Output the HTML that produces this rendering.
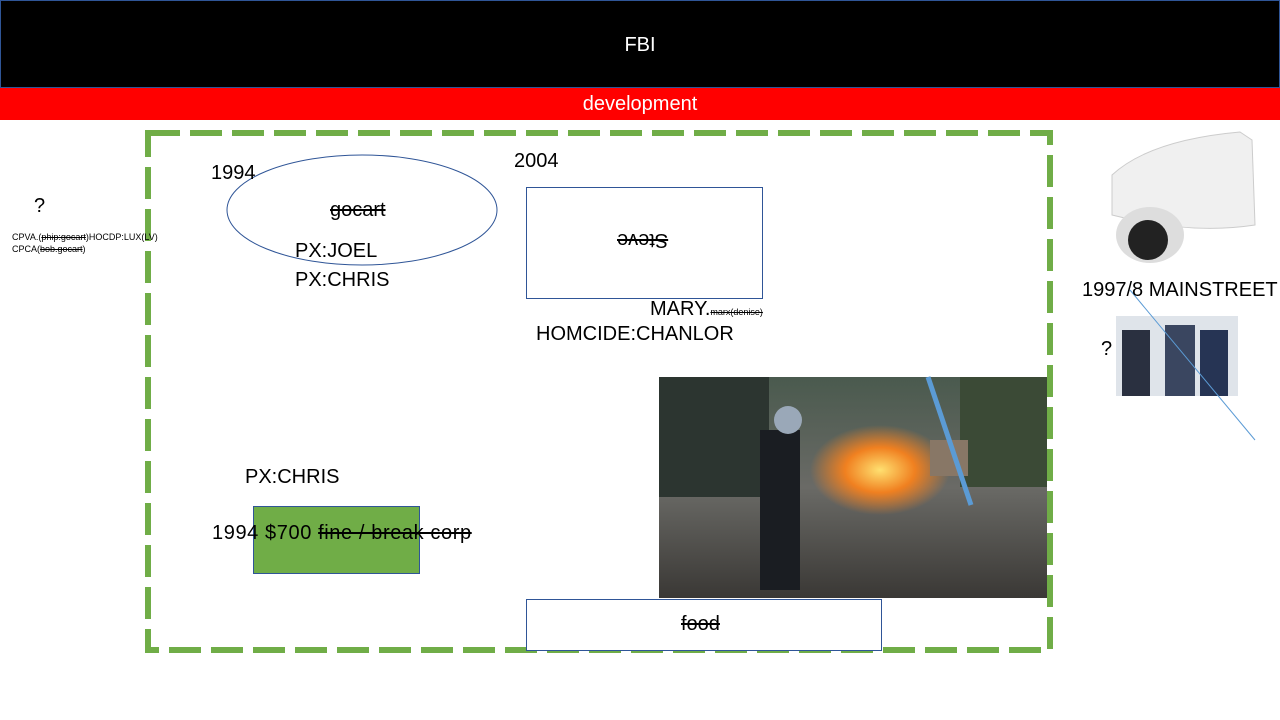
<!DOCTYPE html>
<html><head><meta charset="utf-8"><style>
body{margin:0;width:1280px;height:720px;position:relative;overflow:hidden;background:#fff;font-family:"Liberation Sans",sans-serif;}
.a{position:absolute;white-space:nowrap;color:#000;}
.s{text-decoration:line-through;}
</style></head><body>
<div class="a" style="left:0;top:0;width:1280px;height:88px;background:#000;border:1px solid #2f5597;box-sizing:border-box;color:#fff;font-size:20px;text-align:center;line-height:88px;">FBI</div>
<div class="a" style="left:0;top:88px;width:1280px;height:32px;background:#f00;color:#fff;font-size:20px;text-align:center;line-height:32px;">development</div>
<svg class="a" style="left:0;top:0" width="1280" height="720">
<rect x="148" y="133" width="902" height="517" fill="none" stroke="#70ad47" stroke-width="6" stroke-dasharray="32,10"/>
<ellipse cx="362" cy="210" rx="135" ry="55" fill="#fff" stroke="#2f5597" stroke-width="1"/>
<rect x="526.5" y="187.5" width="236" height="111" fill="#fff" stroke="#2f5597"/>
<rect x="253.5" y="506.5" width="166" height="67" fill="#70ad47" stroke="#2f5597"/>
<defs><linearGradient id="ph" x1="0" y1="0" x2="0" y2="1"><stop offset="0" stop-color="#4a5a4e"/><stop offset="0.5" stop-color="#6a6a66"/><stop offset="1" stop-color="#3a3835"/></linearGradient>
<radialGradient id="fire"><stop offset="0" stop-color="#ffe070"/><stop offset="0.5" stop-color="#f08020"/><stop offset="1" stop-color="#f08020" stop-opacity="0"/></radialGradient></defs>
<g>
<rect x="659" y="377" width="388" height="221" fill="url(#ph)"/>
<rect x="659" y="377" width="110" height="120" fill="#2c3530"/>
<rect x="960" y="377" width="87" height="110" fill="#3b4a36"/>
<ellipse cx="880" cy="470" rx="70" ry="45" fill="url(#fire)"/>
<rect x="760" y="430" width="40" height="160" fill="#1a1d22"/>
<circle cx="788" cy="420" r="14" fill="#9aa8b8"/>
<rect x="930" y="440" width="38" height="36" fill="#887766"/>
<line x1="928" y1="377" x2="971" y2="505" stroke="#5b9bd5" stroke-width="5"/>
</g>
<rect x="526.5" y="599.5" width="355" height="51" fill="#fff" stroke="#2f5597"/>
<g>
<path d="M1112 175 Q1150 140 1240 132 L1252 140 L1255 225 Q1190 235 1112 215 Z" fill="#f0f0f0" stroke="#ccc"/>
<ellipse cx="1150" cy="235" rx="34" ry="28" fill="#ddd"/>
<circle cx="1148" cy="240" r="20" fill="#222"/>
</g>
<g>
<rect x="1116" y="316" width="122" height="80" fill="#dfe4ea"/>
<rect x="1122" y="330" width="28" height="66" fill="#2a3040"/>
<rect x="1165" y="325" width="30" height="71" fill="#3a4660"/>
<rect x="1200" y="330" width="28" height="66" fill="#263454"/>
</g>
<line x1="1130" y1="290" x2="1255" y2="440" stroke="#5b9bd5" stroke-width="1"/>
</svg>
<div class="a" style="left:211px;top:162px;font-size:20px;">1994</div>
<div class="a s" style="left:330px;top:199px;font-size:20px;">gocart</div>
<div class="a" style="left:295px;top:240px;font-size:20px;">PX:JOEL</div>
<div class="a" style="left:295px;top:269px;font-size:20px;">PX:CHRIS</div>
<div class="a" style="left:514px;top:150px;font-size:20px;">2004</div>
<div class="a s" style="left:617px;top:228px;font-size:20px;transform:rotate(180deg);">Steve</div>
<div class="a" style="left:650px;top:298px;font-size:20px;">MARY.<span class="s" style="font-size:9px;">marx(denise)</span></div>
<div class="a" style="left:536px;top:323px;font-size:20px;">HOMCIDE:CHANLOR</div>
<div class="a" style="left:34px;top:195px;font-size:20px;">?</div>
<div class="a" style="left:12px;top:231px;font-size:9px;line-height:12px;">CPVA.(<span class="s">phip:gocart</span>)HOCDP:LUX(LV)<br>CPCA(<span class="s">bob.gocart</span>)</div>
<div class="a" style="left:245px;top:466px;font-size:20px;">PX:CHRIS</div>
<div class="a" style="left:212px;top:522px;font-size:20px;letter-spacing:0.6px;">1994 $700 <span class="s">fine / break corp</span></div>
<div class="a s" style="left:681px;top:613px;font-size:20px;">food</div>
<div class="a" style="left:1082px;top:279px;font-size:20px;">1997/8 MAINSTREET</div>
<div class="a" style="left:1101px;top:338px;font-size:20px;">?</div>
</body></html>
